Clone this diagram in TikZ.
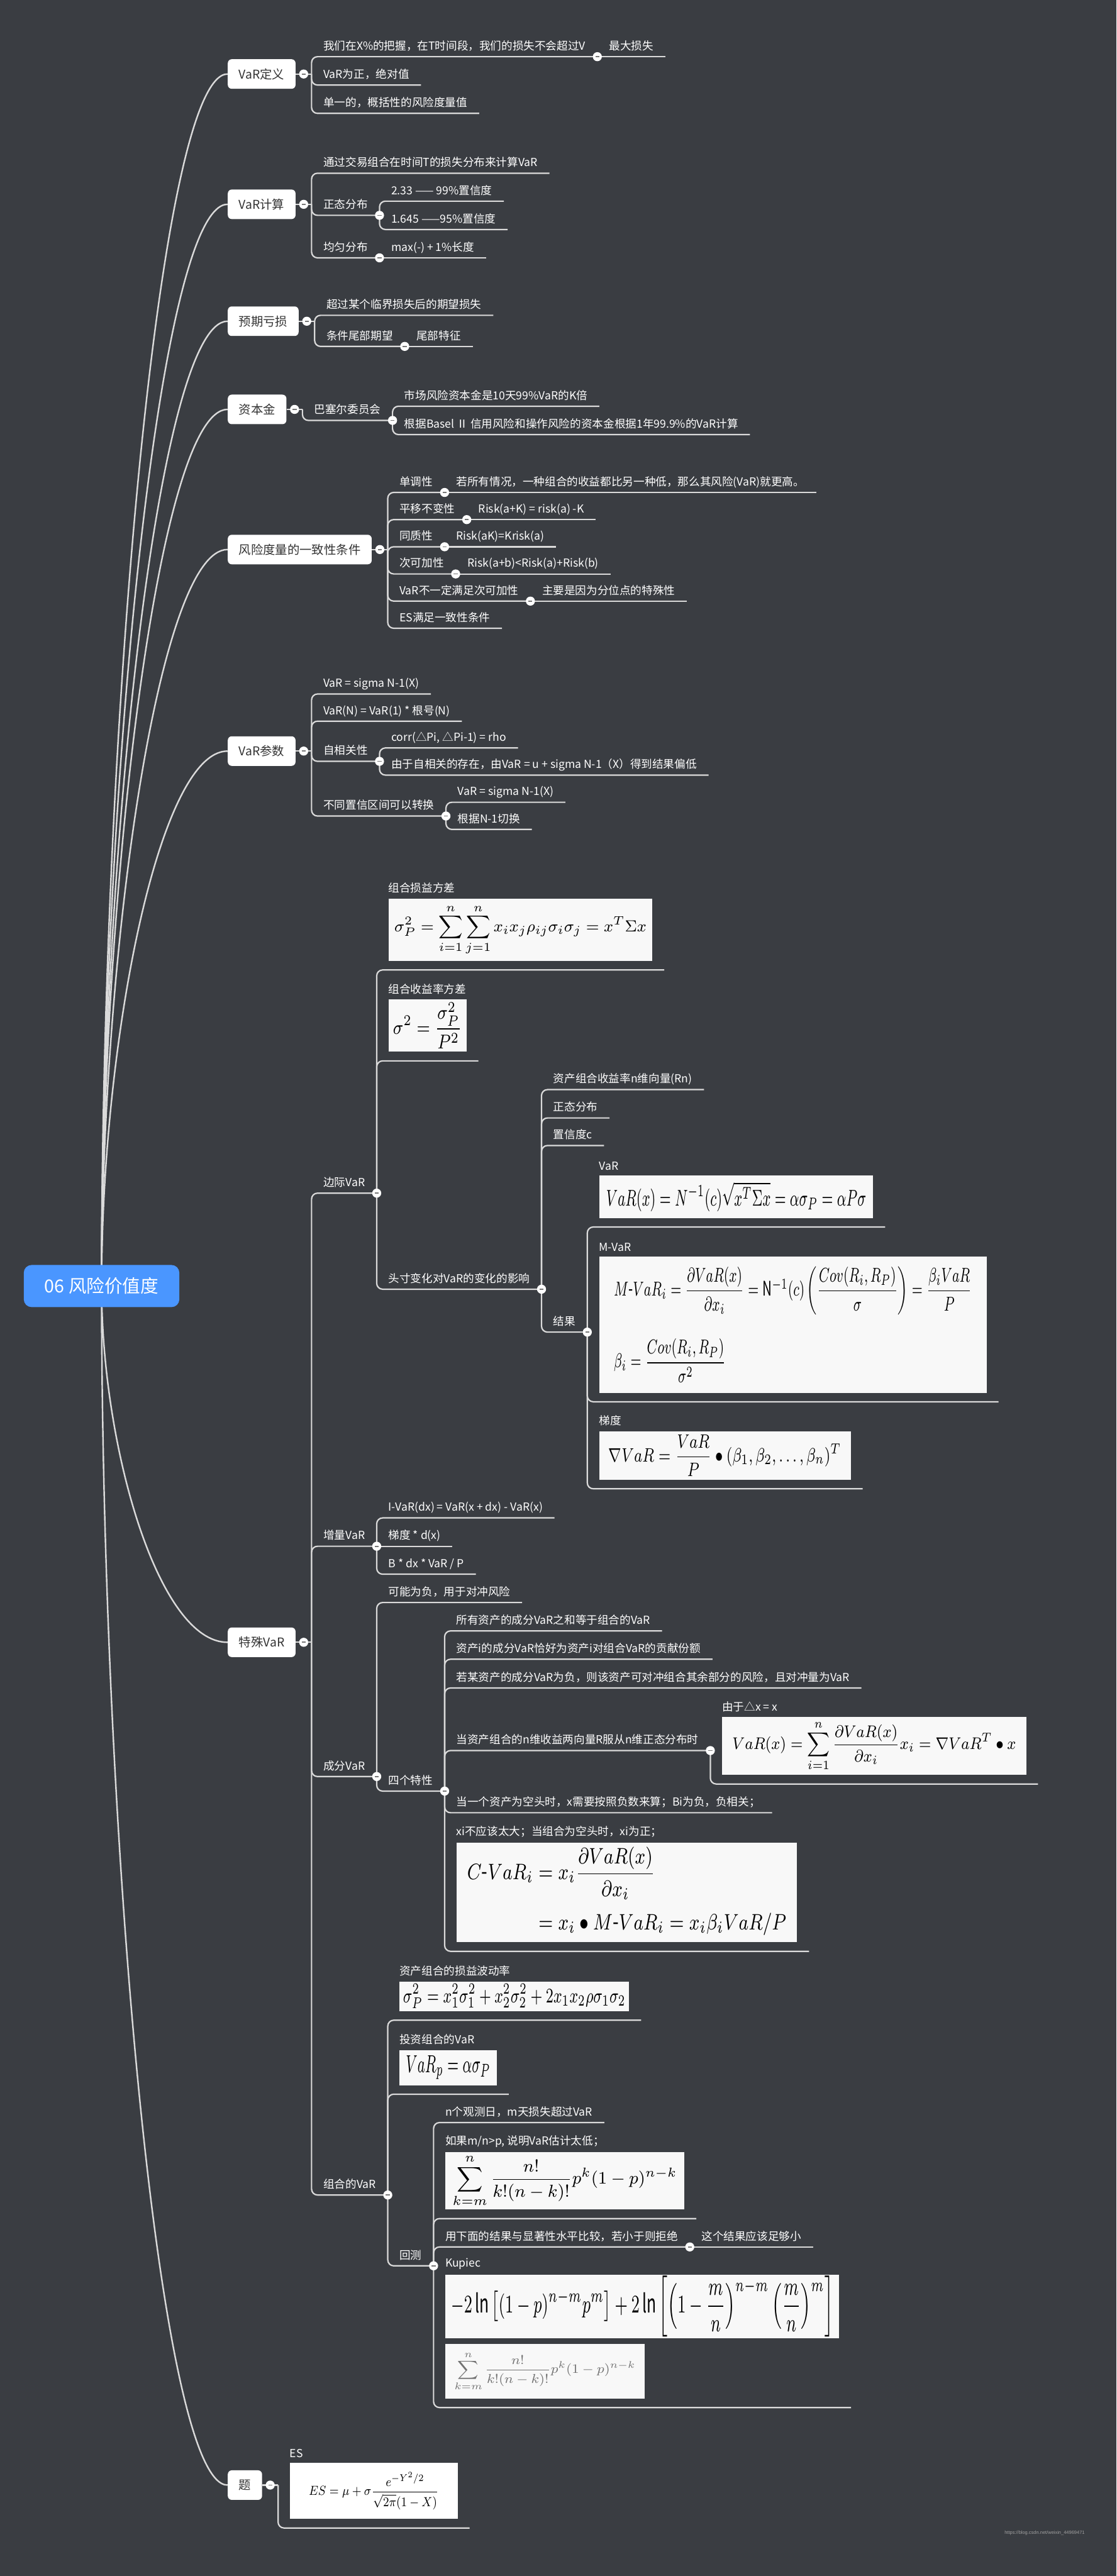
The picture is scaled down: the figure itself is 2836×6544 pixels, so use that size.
\documentclass[tikz,border=0pt]{standalone}
\usepackage{amsmath}
\usepackage{fontspec}
\setmainfont{Noto Sans CJK SC}
\newfontfamily\wmfont{Liberation Sans}
\usepackage{tikz}
\usetikzlibrary{calc,backgrounds}
\definecolor{bgDark}{RGB}{58,61,66}
\definecolor{lineGray}{RGB}{218,218,218}
\definecolor{rootBlue}{RGB}{74,150,255}
\definecolor{boxText}{RGB}{51,51,51}
\definecolor{imgbg}{RGB}{248,248,248}
\definecolor{dotGray}{RGB}{120,120,120}
\definecolor{wmGray}{RGB}{160,160,160}
\newcommand{\leafsize}{\fontsize{8pt}{9.6pt}\selectfont}
\newcommand{\mainsize}{\fontsize{8.8pt}{10.5pt}\selectfont}
\newcommand{\rootsize}{\fontsize{13pt}{15.6pt}\selectfont}
\newcommand{\formbox}[6][imgbg]{{\setlength{\fboxsep}{0pt}\colorbox{#1}{\parbox[c][#3cm][c]{#2cm}{\centering\resizebox*{#4cm}{#5cm}{\color{black}$\displaystyle #6$}}}}}
\tikzset{
  rootbox/.style={fill=rootBlue, rounded corners=0.2cm, text=white, font=\rootsize, minimum width=3.95cm, minimum height=1.07cm, inner sep=0pt},
  mainbox/.style={fill=white, rounded corners=0.1cm, text=boxText, font=\mainsize, inner xsep=0.28cm, minimum height=0.75cm, anchor=west},
  txt/.style={anchor=south west, text=white, font=\leafsize, inner xsep=0.3cm, outer sep=0pt},
  leaf/.style={txt, inner ysep=0.12cm, text height=0.25cm, text depth=0.05cm},
  figleaf/.style={txt, inner ysep=0.23cm, align=left},
  conn/.style={draw=lineGray, line width=1pt, rounded corners=0.15cm},
  branch/.style={draw=lineGray, line width=1.1pt},
  foldbtn/.style={circle, fill=white, minimum size=0.23cm, inner sep=0pt,
    path picture={\draw[dotGray, line width=0.8pt] ([xshift=-0.05cm]path picture bounding box.center) -- ([xshift=0.05cm]path picture bounding box.center);}}
}
\begin{document}
\begin{tikzpicture}[x=0.01cm, y=-0.01cm]
\useasboundingbox (0,0) rectangle (2836,6544);
\begin{scope}[on background layer]
\fill[bgDark] (0,0) rectangle (2836,6544);
\end{scope}

\node[rootbox] (root) at (258,3267) {06 风险价值度};
\node[mainbox] (vdef) at (578,188) {VaR定义};
\node[mainbox] (vcalc) at (578,519) {VaR计算};
\node[mainbox] (eloss) at (578,816) {预期亏损};
\node[mainbox] (capital) at (578,1040) {资本金};
\node[mainbox] (coher) at (578,1396) {风险度量的一致性条件};
\node[mainbox] (vparam) at (578,1908) {VaR参数};
\node[mainbox] (special) at (578,4172) {特殊VaR};
\node[mainbox] (quiz) at (578,6313) {题};

\begin{scope}[on background layer]
\foreach \m in {vdef,vcalc,eloss,capital,coher,vparam,special,quiz}
  \draw[branch] (root.center) .. controls ($(root.center)!0.45!(root.center |- \m.west)$) and ($(root.center |- \m.west)!0.45!(\m.west)$) .. (\m.west);
\end{scope}

\foreach \m in {vdef,vcalc,eloss,capital,coher,vparam,special,quiz}
  \coordinate (\m B) at ([xshift=0.4cm]\m.east);

\node[leaf] (d1) at (vdefB |- 0,144) {我们在X\%的把握，在T时间段，我们的损失不会超过V};
\node[leaf] (d1a) at (d1.south east) {最大损失};
\node[leaf] (d2) at (vdefB |- 0,216) {VaR为正，绝对值};
\node[leaf] (d3) at (vdefB |- 0,288) {单一的，概括性的风险度量值};

\node[leaf] (k1) at (vcalcB |- 0,440) {通过交易组合在时间T的损失分布来计算VaR};
\node[leaf] (k2) at (vcalcB |- 0,547) {正态分布};
\node[leaf] (k2a) at (k2.south east |- 0,511) {2.33 —— 99\%置信度};
\node[leaf] (k2b) at (k2.south east |- 0,583) {1.645 ——95\%置信度};
\node[leaf] (k3) at (vcalcB |- 0,655) {均匀分布};
\node[leaf] (k3a) at (k3.south east) {max(-) + 1\%长度};

\node[leaf] (e1) at (elossB |- 0,801) {超过某个临界损失后的期望损失};
\node[leaf] (e2) at (elossB |- 0,880) {条件尾部期望};
\node[leaf] (e2a) at (e2.south east) {尾部特征};

\node[leaf] (p1) at (capitalB |- 0,1068) {巴塞尔委员会};
\node[leaf] (p1a) at (p1.south east |- 0,1032) {市场风险资本金是10天99\%VaR的K倍};
\node[leaf] (p1b) at (p1.south east |- 0,1104) {根据Basel Ⅱ 信用风险和操作风险的资本金根据1年99.9\%的VaR计算};

\node[leaf] (h1) at (coherB |- 0,1251) {单调性};
\node[leaf] (h1a) at (h1.south east) {若所有情况，一种组合的收益都比另一种低，那么其风险(VaR)就更高。};
\node[leaf] (h2) at (coherB |- 0,1320) {平移不变性};
\node[leaf] (h2a) at (h2.south east) {Risk(a+K) = risk(a) -K};
\node[leaf] (h3) at (coherB |- 0,1389) {同质性};
\node[leaf] (h3a) at (h3.south east) {Risk(aK)=Krisk(a)};
\node[leaf] (h4) at (coherB |- 0,1458) {次可加性};
\node[leaf] (h4a) at (h4.south east) {Risk(a+b)<Risk(a)+Risk(b)};
\node[leaf] (h5) at (coherB |- 0,1527) {VaR不一定满足次可加性};
\node[leaf] (h5a) at (h5.south east) {主要是因为分位点的特殊性};
\node[leaf] (h6) at (coherB |- 0,1596) {ES满足一致性条件};

\node[leaf] (v1) at (vparamB |- 0,1763) {VaR = sigma N-1(X)};
\node[leaf] (v2) at (vparamB |- 0,1832) {VaR(N) = VaR(1) * 根号(N)};
\node[leaf] (v3) at (vparamB |- 0,1934) {自相关性};
\node[leaf] (v3a) at (v3.south east |- 0,1900) {corr(△Pi, △Pi-1) = rho};
\node[leaf] (v3b) at (v3.south east |- 0,1969) {由于自相关的存在，由VaR = u + sigma N-1（X）得到结果偏低};
\node[leaf] (v4) at (vparamB |- 0,2073) {不同置信区间可以转换};
\node[leaf] (v4a) at (v4.south east |- 0,2038) {VaR = sigma N-1(X)};
\node[leaf] (v4b) at (v4.south east |- 0,2107) {根据N-1切换};

\node[leaf] (s1) at (specialB |- 0,3031) {边际VaR};
\node[figleaf] (s1a) at (s1.south east |- 0,2464) {组合损益方差\\[0.1cm]\formbox{6.70}{1.58}{6.4}{1.3}{\sigma_P^2=\sum_{i=1}^{n}\sum_{j=1}^{n}x_ix_j\rho_{ij}\sigma_i\sigma_j=x^T\Sigma x}};
\node[figleaf] (s1b) at (s1.south east |- 0,2695) {组合收益率方差\\[0.1cm]\formbox{1.98}{1.33}{1.75}{1.18}{\sigma^2=\frac{\sigma_P^2}{P^2}}};
\node[leaf] (s1c) at (s1.south east |- 0,3275) {头寸变化对VaR的变化的影响};
\node[leaf] (s1c1) at (s1c.south east |- 0,2768) {资产组合收益率n维向量(Rn)};
\node[leaf] (s1c2) at (s1c.south east |- 0,2840) {正态分布};
\node[leaf] (s1c3) at (s1c.south east |- 0,2910) {置信度c};
\node[leaf] (s1c4) at (s1c.south east |- 0,3384) {结果};
\node[figleaf] (r1) at (s1c4.south east |- 0,3117) {VaR\\[0.1cm]\formbox{6.96}{1.08}{6.6}{0.75}{VaR(x)=N^{-1}(c)\sqrt{x^T\Sigma x}=\alpha\sigma_P=\alpha P\sigma}};
\node[figleaf] (r2) at (s1c4.south east |- 0,3561) {M-VaR\\[0.1cm]\formbox{9.84}{3.45}{9.5}{2.95}{\begin{array}{l}M\text{-}VaR_i=\dfrac{\partial VaR(x)}{\partial x_i}=\mathrm{N}^{-1}(c)\left(\dfrac{Cov(R_i,R_P)}{\sigma}\right)=\dfrac{\beta_iVaR}{P}\\[0.5cm]\beta_i=\dfrac{Cov(R_i,R_P)}{\sigma^2}\end{array}}};
\node[figleaf] (r3) at (s1c4.south east |- 0,3782) {梯度\\[0.1cm]\formbox{6.39}{1.23}{5.9}{1.05}{\nabla VaR=\frac{VaR}{P}\bullet(\beta_1,\beta_2,\ldots,\beta_n)^T}};
\node[leaf] (s2) at (specialB |- 0,3928) {增量VaR};
\node[leaf] (s2a) at (s2.south east |- 0,3856) {I-VaR(dx) = VaR(x + dx) - VaR(x)};
\node[leaf] (s2b) at (s2.south east) {梯度 * d(x)};
\node[leaf] (s2c) at (s2.south east |- 0,3999) {B * dx * VaR / P};
\node[leaf] (s3) at (specialB |- 0,4513) {成分VaR};
\node[leaf] (s3a) at (s3.south east |- 0,4071) {可能为负，用于对冲风险};
\node[leaf] (s3b) at (s3.south east |- 0,4550) {四个特性};
\node[leaf] (f1) at (s3b.south east |- 0,4143) {所有资产的成分VaR之和等于组合的VaR};
\node[leaf] (f2) at (s3b.south east |- 0,4215) {资产i的成分VaR恰好为资产i对组合VaR的贡献份额};
\node[leaf] (f3) at (s3b.south east |- 0,4288) {若某资产的成分VaR为负，则该资产可对冲组合其余部分的风险，且对冲量为VaR};
\node[leaf] (f4) at (s3b.south east |- 0,4447) {当资产组合的n维收益两向量R服从n维正态分布时};
\node[figleaf] (f4a) at (f4.south east |- 0,4532) {由于△x = x\\[0.1cm]\formbox{7.72}{1.47}{7.2}{1.3}{VaR(x)=\sum_{i=1}^{n}\frac{\partial VaR(x)}{\partial x_i}x_i=\nabla VaR^T\bullet x}};
\node[leaf] (f5) at (s3b.south east |- 0,4605) {当一个资产为空头时，x需要按照负数来算；Bi为负，负相关；};
\node[figleaf] (f6) at (s3b.south east |- 0,4957) {xi不应该太大；当组合为空头时，xi为正；\\[0.1cm]\formbox{8.65}{2.53}{8.1}{2.3}{\begin{aligned}C\text{-}VaR_i&=x_i\frac{\partial VaR(x)}{\partial x_i}\\&=x_i\bullet M\text{-}VaR_i=x_i\beta_iVaR/P\end{aligned}}};
\node[leaf] (s4) at (specialB |- 0,5576) {组合的VaR};
\node[figleaf] (s4a) at (s4.south east |- 0,5132) {资产组合的损益波动率\\[0.1cm]\formbox{5.83}{0.75}{5.65}{0.62}{\sigma_P^2=x_1^2\sigma_1^2+x_2^2\sigma_2^2+2x_1x_2\rho\sigma_1\sigma_2}};
\node[figleaf] (s4b) at (s4.south east |- 0,5320) {投资组合的VaR\\[0.1cm]\formbox{2.47}{0.89}{2.15}{0.6}{VaR_p=\alpha\sigma_P}};
\node[leaf] (s4c) at (s4.south east |- 0,5756) {回测};
\node[leaf] (b1) at (s4c.south east |- 0,5392) {n个观测日，m天损失超过VaR};
\node[figleaf] (b2) at (s4c.south east |- 0,5636) {如果m/n>p, 说明VaR估计太低；\\[0.1cm]\formbox{6.07}{1.45}{5.7}{1.35}{\sum_{k=m}^{n}\frac{n!}{k!(n-k)!}p^k(1-p)^{n-k}}};
\node[leaf] (b3) at (s4c.south east |- 0,5708) {用下面的结果与显著性水平比较，若小于则拒绝};
\node[leaf] (b3a) at (b3.south east) {这个结果应该足够小};
\node[figleaf] (b4) at (s4c.south east |- 0,6116) {Kupiec\\[0.1cm]\formbox{10.00}{1.61}{9.7}{1.55}{-2\ln\left[(1-p)^{n-m}p^m\right]+2\ln\left[\left(1-\frac{m}{n}\right)^{n-m}\left(\frac{m}{n}\right)^m\right]}\\[0.12cm]\formbox{5.06}{1.38}{4.6}{1.0}{\color{black!55}\sum_{k=m}^{n}\frac{n!}{k!(n-k)!}p^k(1-p)^{n-k}}};

\node[figleaf] (q1) at (quizB |- 0,6422) {ES\\[0.1cm]\formbox[white]{4.26}{1.43}{3.3}{0.95}{ES=\mu+\sigma\frac{e^{-Y^2/2}}{\sqrt{2\pi}(1-X)}}};

\foreach \m in {vdef,vcalc,eloss,capital,coher,vparam,special,quiz}
  \draw[conn] (\m.east) -- (\m B);
\foreach \p/\c in {vdefB/d1, vdefB/d2, vdefB/d3, vcalcB/k1, vcalcB/k2, vcalcB/k3,
    k2.south east/k2a, k2.south east/k2b, elossB/e1, elossB/e2, capitalB/p1,
    p1.south east/p1a, p1.south east/p1b, coherB/h1, coherB/h2, coherB/h3, coherB/h4, coherB/h5, coherB/h6,
    vparamB/v1, vparamB/v2, vparamB/v3, vparamB/v4, v3.south east/v3a, v3.south east/v3b,
    v4.south east/v4a, v4.south east/v4b, specialB/s1, specialB/s2, specialB/s3, specialB/s4,
    s1.south east/s1a, s1.south east/s1b, s1.south east/s1c,
    s1c.south east/s1c1, s1c.south east/s1c2, s1c.south east/s1c3, s1c.south east/s1c4,
    s1c4.south east/r1, s1c4.south east/r2, s1c4.south east/r3,
    s2.south east/s2a, s2.south east/s2c, s3.south east/s3a, s3.south east/s3b,
    s3b.south east/f1, s3b.south east/f2, s3b.south east/f3, s3b.south east/f4, s3b.south east/f5, s3b.south east/f6,
    f4.south east/f4a, s4.south east/s4a, s4.south east/s4b, s4.south east/s4c,
    s4c.south east/b1, s4c.south east/b2, s4c.south east/b3, s4c.south east/b4, quizB/q1}
  \draw[conn] (\p) |- (\c.south east);
\foreach \p/\c in {d1/d1a, k3/k3a, e2/e2a, h1/h1a, h2/h2a, h3/h3a, h4/h4a, h5/h5a, s2/s2b, b3/b3a}
  \draw[conn] (\p.south east) -- (\c.south east);

\foreach \m in {vdef,vcalc,eloss,capital,coher,vparam,special,quiz}
  \node[foldbtn] at ([xshift=0.2cm]\m.east) {};
\foreach \p in {d1,k2,k3,e2,p1,h1,h2,h3,h4,h5,v3,v4,s1,s1c,s1c4,s2,s3,s3b,f4,s4,s4c,b3}
  \node[foldbtn] at (\p.south east) {};

\node[anchor=east, text=wmGray, font={\wmfont\fontsize{3.4pt}{4pt}\selectfont}, inner sep=0pt] (wm) at (2756,6434) {https://blog.csdn.net/weixin\_44969471};
\end{tikzpicture}
\end{document}
